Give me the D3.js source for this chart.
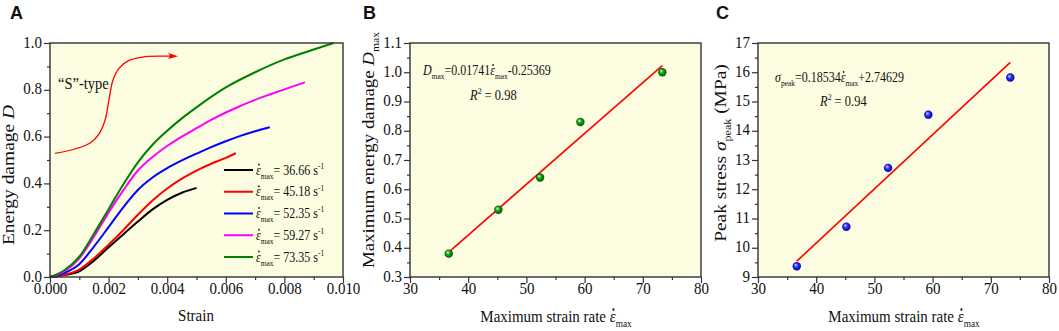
<!DOCTYPE html>
<html lang="en">
<head>
<meta charset="UTF-8">
<title>Energy damage and strain rate</title>
<script src="https://d3js.org/d3.v7.min.js"></script>
<style>
  body { margin: 0; background: #fff; }
  svg { display: block; font-family: "Liberation Serif", "Times New Roman", serif; }
  svg text { white-space: pre; font-family: "Liberation Serif", "Times New Roman", serif; }
  svg text.letter { font-family: "Liberation Sans", Arial, sans-serif; }
  .tick text { font-size: 15px; fill: #111; }
  .tick line { stroke: #333; stroke-width: 1.2; }
</style>
</head>
<body>
<svg id="chart" width="1059" height="331"></svg>
<script>
// ---- data ----
const rates = [36.66, 45.18, 52.35, 59.27, 73.35];

// panel A: energy damage D vs strain, one curve per strain rate
const curve3666 = [[0,0],[0.0005,0.008],[0.001,0.024],[0.0015,0.07],[0.002,0.127],[0.0025,0.182],[0.003,0.237],[0.0035,0.289],[0.004,0.33],[0.0045,0.36],[0.005,0.381]];
const curve4518 = [[0,0],[0.0005,0.01],[0.001,0.032],[0.0015,0.08],[0.002,0.138],[0.0025,0.2],[0.003,0.266],[0.0035,0.327],[0.004,0.378],[0.0045,0.42],[0.005,0.455],[0.0055,0.484],[0.006,0.509],[0.00634,0.529]];
const curve5235 = [[0,0],[0.0005,0.018],[0.001,0.055],[0.0015,0.13],[0.002,0.213],[0.0025,0.298],[0.003,0.372],[0.0035,0.425],[0.004,0.465],[0.0045,0.498],[0.005,0.527],[0.0055,0.555],[0.006,0.58],[0.0065,0.603],[0.007,0.623],[0.0075,0.64]];
const curve5927 = [[0,0],[0.0005,0.025],[0.001,0.08],[0.0015,0.172],[0.002,0.275],[0.0025,0.37],[0.003,0.455],[0.0035,0.513],[0.004,0.56],[0.0045,0.6],[0.005,0.636],[0.0055,0.671],[0.006,0.703],[0.0065,0.731],[0.007,0.757],[0.0075,0.78],[0.008,0.802],[0.0087,0.832]];
const curve7335 = [[0,0],[0.0005,0.03],[0.001,0.087],[0.0015,0.185],[0.002,0.29],[0.0025,0.395],[0.003,0.49],[0.0035,0.565],[0.004,0.625],[0.0045,0.678],[0.005,0.725],[0.006,0.81],[0.007,0.875],[0.008,0.93],[0.009,0.972],[0.00968,1.0]];
const strainCurves = [curve3666, curve4518, curve5235, curve5927, curve7335];

// the "S"-type sketch arrow
const sTypeArrow = [[0.00017,0.528],[0.00085,0.547],[0.00137,0.573],[0.00167,0.611],[0.00188,0.671],[0.00201,0.756],[0.00215,0.842],[0.00236,0.893],[0.00268,0.925],[0.00315,0.94],[0.0038,0.944],[0.0041,0.944]];

// panel B: maximum energy damage
const dmax = [0.38, 0.53, 0.64, 0.83, 1.0];
const fitB = [[36.66, 0.385], [73.35, 1.023]];

// panel C: peak stress (MPa)
const peakStress = [9.37, 10.72, 12.73, 14.55, 15.82];
const fitC = [[36.66, 9.54], [73.35, 16.34]];

// tick labels
const xTicksA = [0, 0.002, 0.004, 0.006, 0.008, 0.010];
const yTicksA = [0, 0.2, 0.4, 0.6, 0.8, 1.0];
const xTicksBC = [30, 40, 50, 60, 70, 80];
const yTicksB = [0.3, 0.4, 0.5, 0.6, 0.7, 0.8, 0.9, 1.0, 1.1];
const yTicksC = [9, 10, 11, 12, 13, 14, 15, 16, 17];

// ---- layout ----
const S = 1.18;            // the source text is slightly stretched vertically
const plotTop = 43, plotBottom = 277;
const colors = ["#000000", "#ff0000", "#0000ff", "#ff00ff", "#008000"];
const bg = "#fcfce0";

const svg = d3.select("#chart");
const defs = svg.append("defs");

function sphere(id, light, mid, dark) {
  const gr = defs.append("radialGradient").attr("id", id)
    .attr("cx", "50%").attr("cy", "50%").attr("r", "55%")
    .attr("fx", "35%").attr("fy", "32%");
  gr.append("stop").attr("offset", "0%").attr("stop-color", light);
  gr.append("stop").attr("offset", "45%").attr("stop-color", mid);
  gr.append("stop").attr("offset", "100%").attr("stop-color", dark);
}
sphere("ballGreen", "#d8ffd8", "#12a012", "#004a00");
sphere("ballBlue", "#e0e0ff", "#2a2aff", "#00008a");

defs.append("marker").attr("id", "arrowHead")
  .attr("viewBox", "0 0 10 6").attr("refX", 2).attr("refY", 3)
  .attr("markerWidth", 10).attr("markerHeight", 6)
  .attr("markerUnits", "userSpaceOnUse").attr("orient", "auto")
  .append("path").attr("d", "M0,0 L10,3 L0,6 L2,3 z").attr("fill", "#ff0000");

// text built from pieces: plain, italic, subscript, superscript, dot accent
function rich(parent, parts, size, anchor) {
  const g = parent.append("g");
  let cx = 0;
  parts.forEach(p => {
    const small = p.sub || p.sup;
    const t = g.append("text")
      .attr("x", cx)
      .attr("y", p.sub ? size * 0.3 : p.sup ? -size * 0.4 : 0)
      .attr("font-size", small ? size * 0.62 : size)
      .attr("font-style", p.i ? "italic" : null)
      .attr("fill", "#111")
      .text(p.t);
    const w = t.node().getComputedTextLength();
    if (p.dot) {
      g.append("circle").attr("cx", cx + w * 0.62).attr("cy", -size * 0.7)
        .attr("r", size * 0.07).attr("fill", "#111");
    }
    cx += w;
  });
  if (anchor === "middle") g.attr("transform", `translate(${-cx / 2},0)`);
  return g;
}

function label(x, y, parts, size, opts = {}) {
  const holder = svg.append("g")
    .attr("transform", `translate(${x},${y}) scale(1,${S})` + (opts.rotate ? " rotate(-90)" : ""));
  rich(holder, parts, size, opts.anchor);
}

function panel(l, r, xDom, yDom, xt, yt, xMinor, yMinor, xFmt, yFmt) {
  const x = d3.scaleLinear().domain(xDom).range([l, r]);
  const y = d3.scaleLinear().domain(yDom).range([plotBottom, plotTop]);

  svg.append("rect").attr("x", l).attr("y", plotTop)
    .attr("width", r - l).attr("height", plotBottom - plotTop).attr("fill", bg);

  const gx = svg.append("g").attr("transform", `translate(0,${plotBottom})`)
    .call(d3.axisBottom(x).tickValues(xt).tickFormat(xFmt).tickSize(6).tickSizeOuter(0));
  gx.selectAll(".tick text").attr("y", null).attr("dy", null)
    .attr("transform", `translate(0,17) scale(1,${S})`);
  svg.append("g").attr("transform", `translate(0,${plotBottom})`)
    .call(d3.axisBottom(x).tickValues(xMinor).tickFormat("").tickSize(3).tickSizeOuter(0));

  const gy = svg.append("g").attr("transform", `translate(${l},0)`)
    .call(d3.axisLeft(y).tickValues(yt).tickFormat(yFmt).tickSize(6).tickSizeOuter(0));
  gy.selectAll(".tick text").attr("x", null).attr("dy", null)
    .attr("transform", `translate(-8,4) scale(1,${S})`);
  svg.append("g").attr("transform", `translate(${l},0)`)
    .call(d3.axisLeft(y).tickValues(yMinor).tickFormat("").tickSize(3).tickSizeOuter(0));

  [gx, gy].forEach(a => a.attr("font-family", null).attr("font-size", null));
  svg.selectAll(".domain").remove();
  return { x, y, l, r };
}

function frame(p) {
  svg.append("rect").attr("x", p.l).attr("y", plotTop)
    .attr("width", p.r - p.l).attr("height", plotBottom - plotTop)
    .attr("fill", "none").attr("stroke", "#333").attr("stroke-width", 1.4);
}

function range(a, b, s) { return d3.range(a, b + s / 2, s); }

// ---- panel A ----
const pA = panel(50, 343, [0, 0.010], [0, 1.0], xTicksA, yTicksA,
  range(0.001, 0.009, 0.002), range(0.1, 0.9, 0.2), d3.format(".3f"), d3.format(".1f"));

const lineA = d3.line().x(d => pA.x(d[0])).y(d => pA.y(d[1])).curve(d3.curveMonotoneX);
strainCurves.forEach((c, i) => {
  svg.append("path").datum(c).attr("d", lineA)
    .attr("fill", "none").attr("stroke", colors[i]).attr("stroke-width", 2);
});

svg.append("path").datum(sTypeArrow)
  .attr("d", d3.line().x(d => pA.x(d[0])).y(d => pA.y(d[1])).curve(d3.curveCatmullRom))
  .attr("fill", "none").attr("stroke", "#ff0000").attr("stroke-width", 1.3)
  .attr("marker-end", "url(#arrowHead)");
label(58, 89, [{ t: "\u201CS\u201D-type" }], 14.5);

// legend
const legY = d3.scaleLinear().domain([0, 4]).range([170, 257]);
rates.forEach((v, i) => {
  svg.append("line").attr("x1", 224).attr("x2", 253)
    .attr("y1", legY(i)).attr("y2", legY(i))
    .attr("stroke", colors[i]).attr("stroke-width", 2);
  label(256, legY(i) + 4.5, [
    { t: "\u03B5", i: true, dot: true }, { t: "max", sub: true },
    { t: "= " + v.toFixed(2) + " s" }, { t: "-1", sup: true }
  ], 12);
});
frame(pA);

// ---- panel B ----
const pB = panel(410, 701, [30, 80], [0.3, 1.1], xTicksBC, yTicksB,
  range(35, 75, 10), range(0.35, 1.05, 0.1), d3.format("d"), d3.format(".1f"));
svg.append("path").datum(fitB)
  .attr("d", d3.line().x(d => pB.x(d[0])).y(d => pB.y(d[1])))
  .attr("stroke", "#ff0000").attr("stroke-width", 1.6);
svg.append("g").selectAll("circle").data(rates).join("circle")
  .attr("cx", d => pB.x(d)).attr("cy", (d, i) => pB.y(dmax[i]))
  .attr("r", 4.2).attr("fill", "url(#ballGreen)");
label(423, 75, [
  { t: "D", i: true }, { t: "max", sub: true }, { t: "=0.01741" },
  { t: "\u03B5", i: true, dot: true }, { t: "max", sub: true }, { t: "-0.25369" }
], 12);
label(470, 100, [{ t: "R", i: true }, { t: "2", sup: true }, { t: " = 0.98" }], 12.5);
frame(pB);

// ---- panel C ----
const pC = panel(758, 1049, [30, 80], [9, 17], xTicksBC, yTicksC,
  range(35, 75, 10), range(9.5, 16.5, 1), d3.format("d"), d3.format("d"));
svg.append("path").datum(fitC)
  .attr("d", d3.line().x(d => pC.x(d[0])).y(d => pC.y(d[1])))
  .attr("stroke", "#ff0000").attr("stroke-width", 1.6);
svg.append("g").selectAll("circle").data(rates).join("circle")
  .attr("cx", d => pC.x(d)).attr("cy", (d, i) => pC.y(peakStress[i]))
  .attr("r", 4.2).attr("fill", "url(#ballBlue)");
label(775, 82, [
  { t: "\u03C3", i: true }, { t: "peak", sub: true }, { t: "=0.18534" },
  { t: "\u03B5", i: true, dot: true }, { t: "max", sub: true }, { t: "+2.74629" }
], 12);
label(820, 106, [{ t: "R", i: true }, { t: "2", sup: true }, { t: " = 0.94" }], 12.5);
frame(pC);

// ---- axis titles ----
label(196, 321, [{ t: "Strain" }], 15, { anchor: "middle" });
label(556, 322, [{ t: "Maximum strain rate " }, { t: "\u03B5", i: true, dot: true }, { t: "max", sub: true }], 15, { anchor: "middle" });
label(904, 322, [{ t: "Maximum strain rate " }, { t: "\u03B5", i: true, dot: true }, { t: "max", sub: true }], 15, { anchor: "middle" });

label(14, 175, [{ t: "Energy damage " }, { t: "D", i: true }], 16.5, { rotate: true, anchor: "middle" });
label(374, 150, [{ t: "Maximum energy damage " }, { t: "D", i: true }, { t: "max", sub: true }], 16, { rotate: true, anchor: "middle" });
label(726, 153, [{ t: "Peak stress " }, { t: "\u03C3", i: true }, { t: "peak", sub: true }, { t: " (MPa)" }], 16.5, { rotate: true, anchor: "middle" });

// ---- panel letters ----
[["A", 10], ["B", 363], ["C", 716]].forEach(([t, x]) => {
  svg.append("text").attr("class", "letter").attr("x", x).attr("y", 19)
    .attr("font-weight", "bold").attr("font-size", 18).attr("fill", "#111").text(t);
});
</script>
</body>
</html>
